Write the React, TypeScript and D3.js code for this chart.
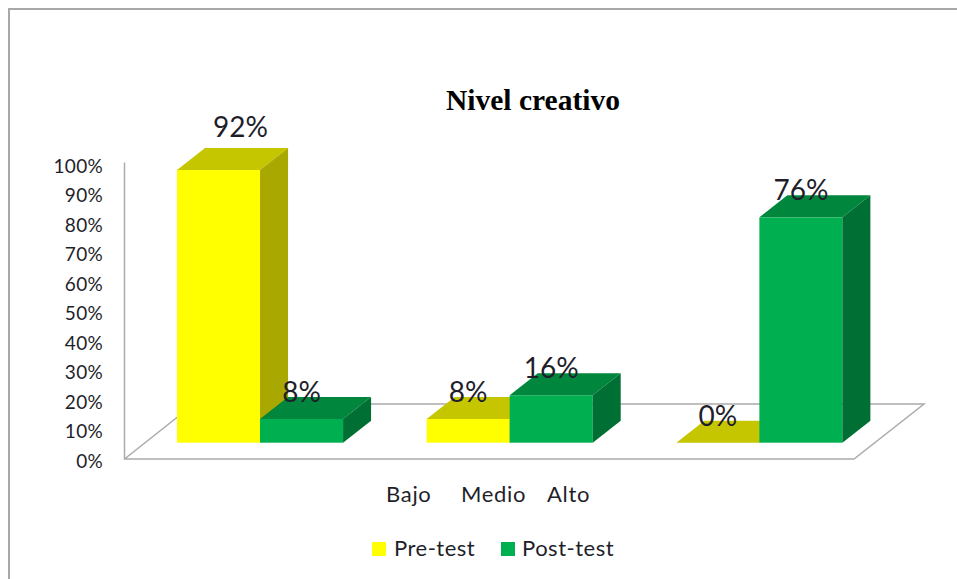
import React from "react";
import * as d3 from "d3";

const categories = ["Bajo", "Medio", "Alto"];
const seriesNames = ["Pre-test", "Post-test"];
const preTest = [92, 8, 0];
const postTest = [8, 16, 76];
const yTicks = [0, 10, 20, 30, 40, 50, 60, 70, 80, 90, 100];
const categoryLabelX = [386, 461, 547];

const COLORS = [
  { front: "#FFFF00", top: "#C6C600", side: "#A8A800" },
  { front: "#00B050", top: "#00863D", side: "#006F33" },
];
const AXIS = "#ABABAB";
const TEXT = "#1f1f2b";
const SANS = "Lato, 'Open Sans', sans-serif";
const BAR_DX = 28;
const BAR_DY = 22;

export default function App() {
  const barY = d3.scaleLinear().domain([0, 100]).range([442.7, 146.2]);
  const wallY = d3.scaleLinear().domain([0, 100]).range([459, 162.5]);
  const tickY = d3.scaleLinear().domain([0, 100]).range([468, 172.5]);
  const group = d3.scaleBand<string>().domain(categories).range([135.2, 884.2]).paddingInner(0.335).paddingOuter(0.1675);
  const inner = d3.scaleBand<string>().domain(seriesNames).range([0, group.bandwidth()]);
  const series = [preTest, postTest];

  const bars = seriesNames.flatMap((s, si) =>
    categories.map((c, ci) => ({ s, si, c, ci, v: series[si][ci] }))
  );
  // painter's order: left to right
  bars.sort((a, b) => a.ci - b.ci || a.si - b.si);

  const poly = (pts: [number, number][]) => pts.map((p) => p.join(",")).join(" ");

  return (
    <svg width={957} height={579} style={{ position: "absolute", left: 0, top: 0, background: "#fff" }}>
      <path d="M9,579V9H957" fill="none" stroke="#A8A8A8" strokeWidth={2} />

      <text x={533} y={110} textAnchor="middle" fontFamily="'Liberation Serif', serif" fontWeight="bold" fontSize={29.5} fill="#000">
        Nivel creativo
      </text>

      {/* walls and floor */}
      <g fill="none" stroke={AXIS} strokeWidth={1.5}>
        <path d={`M124.5,${wallY(100)}V${wallY(0)}H854L924,404H194L124.5,${wallY(0)}`} />
      </g>

      {yTicks.map((t) => (
        <text key={t} x={103} y={tickY(t)} textAnchor="end" fontFamily={SANS} fontSize={19} letterSpacing={0.3} fill={TEXT}>
          {t}%
        </text>
      ))}

      {bars.map((b) => {
        const x0 = group(b.c)! + inner(b.s)!;
        const x1 = x0 + inner.bandwidth();
        const y0 = barY(0);
        const y1 = barY(b.v);
        const col = COLORS[b.si];
        return (
          <g key={b.s + b.c}>
            {b.v > 0 && <rect x={x0} y={y1} width={x1 - x0} height={y0 - y1} fill={col.front} />}
            <polygon
              points={poly([[x0, y1], [x0 + BAR_DX, y1 - BAR_DY], [x1 + BAR_DX, y1 - BAR_DY], [x1, y1]])}
              fill={col.top}
            />
            {b.v > 0 && (
              <polygon
                points={poly([[x1, y1], [x1 + BAR_DX, y1 - BAR_DY], [x1 + BAR_DX, y0 - BAR_DY], [x1, y0]])}
                fill={col.side}
              />
            )}
          </g>
        );
      })}

      {bars.map((b) => {
        const x0 = group(b.c)! + inner(b.s)!;
        const moved = b.v > 90;
        return (
          <text
            key={b.s + b.c}
            x={x0 + inner.bandwidth() / 2 + (moved ? 22 : 0)}
            y={barY(b.v) - (moved ? 33 : 17)}
            textAnchor="middle"
            fontFamily={SANS}
            fontSize={28}
            fill={TEXT}
          >
            {b.v}%
          </text>
        );
      })}

      {categories.map((c, i) => (
        <text key={c} x={categoryLabelX[i]} y={502} fontFamily={SANS} fontSize={22} letterSpacing={0.7} fill={TEXT}>
          {c}
        </text>
      ))}

      {seriesNames.map((s, i) => (
        <g key={s}>
          <rect x={[372, 501][i]} y={542} width={14} height={14} fill={COLORS[i].front} />
          <text x={[394, 522][i]} y={556} fontFamily={SANS} fontSize={22} letterSpacing={0.5} fill={TEXT}>
            {s}
          </text>
        </g>
      ))}
    </svg>
  );
}
